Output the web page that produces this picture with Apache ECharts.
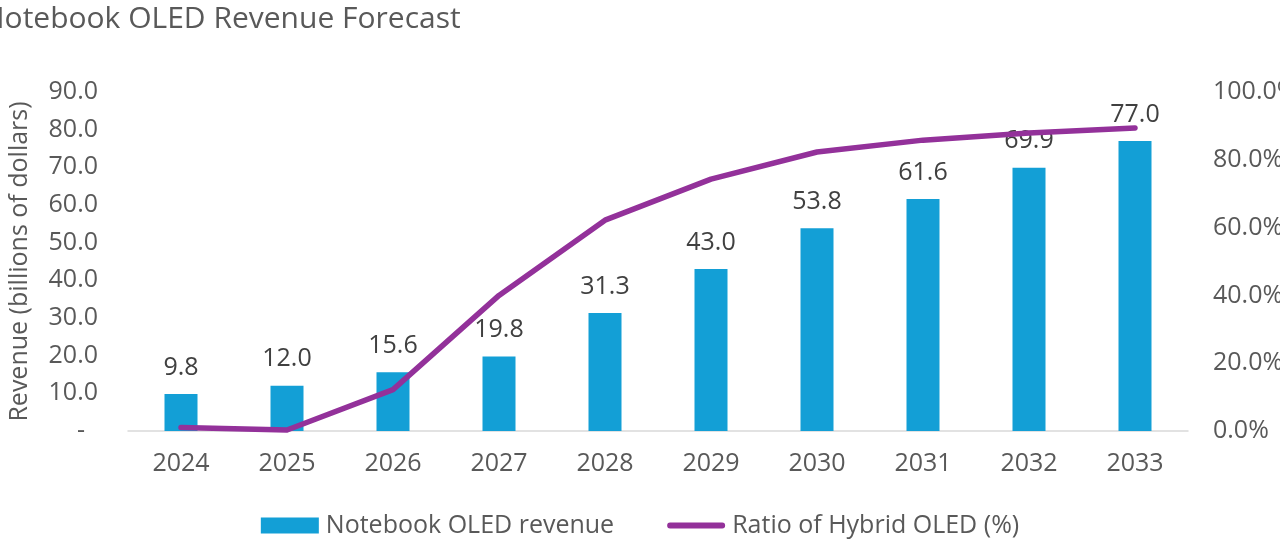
<!DOCTYPE html>
<html><head><meta charset="utf-8">
<script src="https://cdn.jsdelivr.net/npm/echarts@6/dist/echarts.min.js"></script>
<style>html,body{margin:0;padding:0;background:#fff}#c{width:1280px;height:545px}</style>
</head><body><div id="c"></div>
<script>
const years = ['2024','2025','2026','2027','2028','2029','2030','2031','2032','2033'];
const revenue = [9.8, 12.0, 15.6, 19.8, 31.3, 43.0, 53.8, 61.6, 69.9, 77.0];
const hybridRatio = [1.0, 0.3, 12.2, 40.0, 62.2, 74.3, 82.3, 85.8, 87.9, 89.4];
const leftTicks = [0, 10, 20, 30, 40, 50, 60, 70, 80, 90];
const rightTicks = [0, 20, 40, 60, 80, 100];

const FONT = '"Open Sans", Inter, sans-serif';
const FS = 25;
const chart = echarts.init(document.getElementById('c'));
chart.setOption({
  animation: false,
  textStyle: { fontFamily: FONT },
  title: {
    text: 'Notebook OLED Revenue Forecast',
    left: -23, top: -1,
    textStyle: { fontFamily: FONT, fontSize: 30, fontWeight: 'normal', color: '#595959' }
  },
  legend: {
    bottom: 2, left: 'center',
    itemGap: 53,
    textStyle: { fontFamily: FONT, fontSize: FS, color: '#595959', padding: [0, 0, 0, 2] },
    data: [
      { name: 'Notebook OLED revenue', icon: 'rect', itemStyle: { color: '#139fd6' } },
      { name: 'Ratio of Hybrid OLED (%)', icon: 'path://M3,0 L57,0 A3,3 0 0 1 57,6 L3,6 A3,3 0 0 1 3,0 Z', itemStyle: { color: '#93319a' } }
    ],
    itemWidth: 58, itemHeight: 16
  },
  grid: { left: 128, right: 92, top: 92, bottom: 114, outerBoundsMode: 'none', containLabel: false },
  xAxis: {
    type: 'category', data: years,
    axisLine: { lineStyle: { color: '#d9d9d9', width: 1.5 } },
    axisTick: { show: false },
    axisLabel: { fontFamily: FONT, fontSize: FS, color: '#595959', margin: 20 }
  },
  yAxis: [
    {
      type: 'value', min: leftTicks[0], max: leftTicks[leftTicks.length - 1], interval: 10,
      name: 'Revenue (billions of dollars)', nameLocation: 'middle', nameGap: 96,
      nameTextStyle: { fontFamily: FONT, fontSize: FS, color: '#595959' },
      axisLine: { show: false }, axisTick: { show: false }, splitLine: { show: false },
      axisLabel: {
        fontFamily: FONT, fontSize: FS, color: '#595959', margin: 30,
        formatter: v => v === 0 ? '-  ' : v.toFixed(1)
      }
    },
    {
      type: 'value', min: rightTicks[0], max: rightTicks[rightTicks.length - 1], interval: 20,
      axisLine: { show: false }, axisTick: { show: false }, splitLine: { show: false },
      axisLabel: {
        fontFamily: FONT, fontSize: FS, color: '#595959', margin: 25,
        formatter: v => v.toFixed(1) + '%'
      }
    }
  ],
  series: [
    {
      name: 'Notebook OLED revenue', type: 'bar', data: revenue, barWidth: 33,
      itemStyle: { color: '#139fd6' },
      label: {
        show: true, position: 'top', distance: 14,
        fontFamily: FONT, fontSize: FS, color: '#404040',
        formatter: p => p.value.toFixed(1)
      }
    },
    {
      name: 'Ratio of Hybrid OLED (%)', type: 'line', yAxisIndex: 1, data: hybridRatio,
      symbol: 'none', lineStyle: { color: '#93319a', width: 5.5, cap: 'round', join: 'round' },
      itemStyle: { color: '#93319a' }
    }
  ]
});
</script></body></html>
